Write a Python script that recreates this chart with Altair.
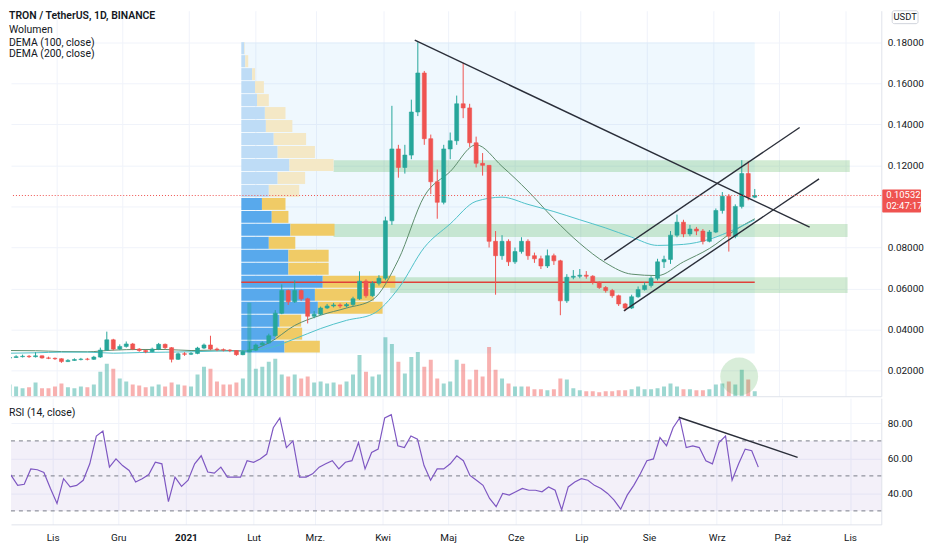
import altair as alt
import numpy as np
import pandas as pd

# ---------------- data ----------------
FIRST_DATE = "2020-10-10"      # first 3-day candle
CANDLE_DAYS = 3
first_open = 0.0261
close = [0.0264, 0.0268, 0.0270, 0.0268, 0.0272, 0.0262, 0.0260, 0.0258, 0.0244, 0.0250,
         0.0254, 0.0256, 0.0255, 0.0266, 0.0300, 0.0350, 0.0305, 0.0318, 0.0330, 0.0305,
         0.0298, 0.0292, 0.0305, 0.0328, 0.0312, 0.0255, 0.0282, 0.0280, 0.0284, 0.0310,
         0.0325, 0.0305, 0.0302, 0.0300, 0.0298, 0.0278, 0.0292, 0.0300, 0.0325, 0.0335,
         0.0370, 0.0480, 0.0590, 0.0535, 0.0590, 0.0550, 0.0465, 0.0475, 0.0505, 0.0515,
         0.0520, 0.0515, 0.0522, 0.0550, 0.0636, 0.0565, 0.0626, 0.0650, 0.0930, 0.1280,
         0.1190, 0.1250, 0.1460, 0.1650, 0.1330, 0.1120, 0.1020, 0.1280, 0.1320, 0.1500,
         0.1480, 0.1310, 0.1210, 0.1200, 0.0830, 0.0760, 0.0830, 0.0730, 0.0780, 0.0830,
         0.0760, 0.0745, 0.0710, 0.0760, 0.0735, 0.0540, 0.0655, 0.0660, 0.0665, 0.0660,
         0.0630, 0.0605, 0.0590, 0.0565, 0.0525, 0.0505, 0.0560, 0.0595, 0.0615, 0.0650,
         0.0730, 0.0742, 0.0860, 0.0923, 0.0866, 0.0890, 0.0880, 0.0830, 0.0875, 0.0980,
         0.1050, 0.0855, 0.1000, 0.1160, 0.1045, 0.10532]
high = [0.0272, 0.0275, 0.0278, 0.0276, 0.0290, 0.0274, 0.0268, 0.0264, 0.0260, 0.0256,
        0.0260, 0.0262, 0.0262, 0.0272, 0.0312, 0.0390, 0.0355, 0.0328, 0.0342, 0.0335,
        0.0310, 0.0302, 0.0312, 0.0335, 0.0332, 0.0315, 0.0288, 0.0290, 0.0290, 0.0316,
        0.0332, 0.0370, 0.0312, 0.0308, 0.0305, 0.0300, 0.0298, 0.0340, 0.0332, 0.0342,
        0.0380, 0.0495, 0.0620, 0.0595, 0.0640, 0.0595, 0.0555, 0.0490, 0.0512, 0.0525,
        0.0530, 0.0528, 0.0530, 0.0560, 0.0684, 0.0645, 0.0635, 0.0665, 0.0950, 0.1490,
        0.1300, 0.1300, 0.1520, 0.1800, 0.1660, 0.1350, 0.1180, 0.1300, 0.1360, 0.1540,
        0.1700, 0.1500, 0.1340, 0.1260, 0.1200, 0.0880, 0.0860, 0.0840, 0.0800, 0.0850,
        0.0840, 0.0775, 0.0760, 0.0790, 0.0770, 0.0740, 0.0670, 0.0690, 0.0695, 0.0685,
        0.0665, 0.0635, 0.0612, 0.0598, 0.0570, 0.0530, 0.0570, 0.0610, 0.0630, 0.0660,
        0.0745, 0.0760, 0.0880, 0.0960, 0.0935, 0.0910, 0.0900, 0.0890, 0.0885, 0.0990,
        0.1070, 0.1060, 0.1010, 0.1225, 0.1220, 0.1085]
low = [0.0258, 0.0262, 0.0264, 0.0262, 0.0264, 0.0258, 0.0256, 0.0252, 0.0238, 0.0242,
       0.0248, 0.0250, 0.0250, 0.0252, 0.0262, 0.0296, 0.0298, 0.0300, 0.0312, 0.0300,
       0.0292, 0.0285, 0.0290, 0.0300, 0.0305, 0.0240, 0.0252, 0.0272, 0.0276, 0.0280,
       0.0305, 0.0300, 0.0295, 0.0294, 0.0290, 0.0272, 0.0275, 0.0290, 0.0295, 0.0320,
       0.0330, 0.0365, 0.0475, 0.0520, 0.0530, 0.0540, 0.0430, 0.0455, 0.0470, 0.0500,
       0.0508, 0.0505, 0.0508, 0.0515, 0.0545, 0.0555, 0.0560, 0.0615, 0.0640, 0.0910,
       0.1140, 0.1160, 0.1230, 0.1440, 0.1300, 0.1060, 0.0940, 0.1010, 0.1230, 0.1300,
       0.1430, 0.1290, 0.1190, 0.1150, 0.0800, 0.0570, 0.0740, 0.0710, 0.0720, 0.0770,
       0.0740, 0.0725, 0.0695, 0.0700, 0.0715, 0.0470, 0.0530, 0.0645, 0.0650, 0.0648,
       0.0620, 0.0598, 0.0580, 0.0555, 0.0515, 0.0490, 0.0500, 0.0555, 0.0590, 0.0605,
       0.0640, 0.0700, 0.0720, 0.0850, 0.0850, 0.0855, 0.0860, 0.0815, 0.0825, 0.0870,
       0.0965, 0.0780, 0.0845, 0.0990, 0.1030, 0.1040]
volume = [12, 10, 8, 9, 14, 8, 8, 10, 13, 9,
          8, 10, 9, 12, 25, 33, 28, 18, 15, 12,
          11, 9, 10, 12, 10, 14, 12, 11, 10, 22,
          30, 28, 15, 12, 12, 14, 18, 95, 28, 30,
          35, 38, 22, 20, 22, 18, 20, 14, 15, 13,
          14, 12, 15, 22, 42, 25, 20, 22, 60, 53,
          35, 23, 40, 45, 30, 37, 18, 13, 15, 37,
          33, 17, 27, 20, 50, 27, 18, 13, 10, 10,
          10, 7, 7, 6, 7, 18, 17, 8, 6, 5,
          5, 4, 5, 5, 6, 6, 7, 10, 7, 7,
          8, 10, 13, 10, 7, 7, 6, 6, 7, 12,
          13, 15, 12, 27, 17, 5]          # 100M TRX
rsi = [47.5, 50.3, 44.6, 45.2, 54.0, 53.5, 52.0, 42.8, 34.3, 48.4,
       43.7, 44.6, 47.5, 56.9, 72.8, 75.6, 55.0, 59.7, 55.9, 53.1,
       46.5, 48.4, 50.8, 57.8, 56.9, 35.3, 49.3, 44.0, 47.5, 56.9,
       61.5, 52.2, 51.6, 55.0, 49.3, 49.3, 49.3, 58.7, 57.8, 59.7,
       62.5, 77.5, 83.1, 66.2, 70.0, 49.3, 49.3, 51.2, 55.0, 56.9,
       58.7, 54.0, 57.8, 58.7, 69.0, 54.0, 63.4, 65.3, 83.1, 85.0,
       67.2, 66.2, 72.8, 71.0, 55.9, 47.5, 54.0, 54.0, 56.9, 61.5,
       58.7, 50.3, 47.5, 44.6, 37.1, 32.4, 40.0, 39.0, 40.9, 42.8,
       41.8, 41.8, 40.9, 43.7, 41.8, 30.6, 43.7, 46.5, 48.4, 47.5,
       44.6, 42.8, 40.0, 36.2, 31.0, 39.0, 44.6, 51.2, 58.7, 59.7,
       71.9, 67.2, 77.5, 83.1, 66.2, 67.2, 66.2, 58.7, 56.9, 69.0,
       72.8, 47.5, 56.9, 65.3, 64.4, 55.0]

ma_idx = [0, 4, 8, 12, 16, 20, 24, 28, 32, 36, 40, 44, 48, 52, 56, 60, 64, 68, 72, 76,
          80, 84, 88, 92, 96, 100, 104, 108, 112, 115]
dema100 = [0.0298, 0.0297, 0.0293, 0.0292, 0.0300, 0.0303, 0.0303, 0.0298, 0.0300, 0.0296,
           0.0335, 0.0420, 0.0470, 0.0505, 0.0545, 0.0740, 0.1050, 0.1170, 0.1300, 0.1195,
           0.1075, 0.0940, 0.0820, 0.0725, 0.0670, 0.0663, 0.0730, 0.0795, 0.0885, 0.0940]
dema200 = [0.0285, 0.0287, 0.0290, 0.0290, 0.0285, 0.0288, 0.0290, 0.0292, 0.0295, 0.0296,
           0.0310, 0.0355, 0.0405, 0.0445, 0.0475, 0.0600, 0.0800, 0.0915, 0.1025, 0.1045,
           0.1010, 0.0975, 0.0935, 0.0895, 0.0850, 0.0810, 0.0815, 0.0840, 0.0890, 0.0935]

# visible-range volume profile (rows from top price to bottom price)
prof_hi, prof_lo = 0.1800, 0.0283
prof_up = [3, 4, 11, 14, 16, 24, 25, 33, 37, 49, 37, 28, 21, 31, 50, 28, 48, 48, 83, 75, 78, 39, 35, 44]
prof_down = [0.5, 3, 3, 9, 12, 21, 27, 33, 38, 45, 28, 31, 24, 17, 45, 27, 41, 41, 74, 60, 66, 22, 27, 36]
prof_in_va = [0] * 12 + [1] * 12
prof_width_share = 0.30
range_start, range_end = "2021-01-25T07:00", "2021-09-20T00:00"

zone_start = ["2021-03-09", "2021-03-09", "2021-04-04T06:00"]
zone_end = ["2021-11-03", "2021-11-02", "2021-11-02"]
zone_top = [0.1225, 0.0914, 0.0655]
zone_bottom = [0.1168, 0.0851, 0.0578]

trend_t1 = ["2021-04-15T14:00", "2021-07-12T07:00", "2021-07-21T10:00"]
trend_p1 = [0.18096, 0.07380, 0.04910]
trend_t2 = ["2021-10-15T10:00", "2021-10-10T19:00", "2021-10-19T19:00"]
trend_p2 = [0.08994, 0.13847, 0.11341]

rsi_trend_t = ["2021-08-14T14:00", "2021-10-08T00:00"]
rsi_trend_v = [83.5, 60.6]

circle_t, circle_p = "2021-09-12T19:00", 0.01713

last_price = 0.10532
countdown = "02:47:17"

legend_lines = ["TRON / TetherUS, 1D, BINANCE", "Wolumen", "DEMA (100, close)", "DEMA (200, close)"]

month_ticks = ["2020-11-01", "2020-12-01", "2021-01-01", "2021-02-01", "2021-03-01", "2021-04-01",
               "2021-05-01", "2021-06-01", "2021-07-01", "2021-08-01", "2021-09-01", "2021-10-01",
               "2021-11-01"]
month_labels = ["Lis", "Gru", "2021", "Lut", "Mrz.", "Kwi", "Maj", "Cze", "Lip", "Sie", "Wrz", "Paź", "Lis"]
price_ticks = [0.02, 0.04, 0.06, 0.08, 0.10, 0.12, 0.14, 0.16, 0.18]
hidden_price_label = 0.10          # covered by the last-price tag
rsi_ticks = [40, 60, 80]
rsi_levels = [70, 50, 30]

X_DOMAIN = ["2020-10-12T22:20", "2021-11-15T07:00"]
PRICE_DOMAIN = [0.00754, 0.19533]
RSI_DOMAIN = [22.3, 94.4]
VOL_DOMAIN = [0, 392]

# ---------------- style ----------------
W, H1, H2 = 876, 388, 127
FONT = "Roboto"
UP, DOWN = "#26a69a", "#ef5350"
TEXT = "#131722"
GRID = "#f0f3fa"
BORDER = "#e0e3eb"
LINE = "#2a2e39"
BAR_W = 4


def ms(s):
    return int(pd.Timestamp(s).tz_localize("UTC").value // 10**6)


DAY = 86400000
n = len(close)
t0 = ms(FIRST_DATE)
candles = pd.DataFrame({
    "t": [t0 + i * CANDLE_DAYS * DAY for i in range(n)],
    "open": [first_open] + close[:-1],
    "close": close, "high": high, "low": low, "volume": volume, "rsi": rsi,
})
ma = pd.DataFrame({"t": [candles.t[i] for i in ma_idx], "d100": dema100, "d200": dema200})

r0, r1 = ms(range_start), ms(range_end)
edges = np.linspace(prof_hi, prof_lo, len(prof_up) + 1)
tot = np.array(prof_up) + np.array(prof_down)
kx = prof_width_share * (r1 - r0) / tot.max()
prows = []
for k in range(len(prof_up)):
    a = r0 + prof_up[k] * kx
    b = a + prof_down[k] * kx
    va = prof_in_va[k]
    prows.append(dict(x0=r0, x1=a, hi=edges[k], lo=edges[k + 1], fill="#58a9ec" if va else "#bedcf6"))
    prows.append(dict(x0=a, x1=b, hi=edges[k], lo=edges[k + 1], fill="#f0cb66" if va else "#f4e8c6"))
prof = pd.DataFrame(prows)
poc_k = int(tot.argmax())
poc = pd.DataFrame({"x0": [r0], "x1": [r1], "p": [(edges[poc_k] + edges[poc_k + 1]) / 2]})
rng = pd.DataFrame({"x0": [r0], "x1": [r1], "hi": [prof_hi], "lo": [prof_lo]})
zones = pd.DataFrame({"s": [ms(s) for s in zone_start], "e": [ms(s) for s in zone_end],
                      "top": zone_top, "bot": zone_bottom})
trends = pd.DataFrame({"t1": [ms(s) for s in trend_t1], "p1": trend_p1,
                       "t2": [ms(s) for s in trend_t2], "p2": trend_p2})
rsi_tr = pd.DataFrame({"t1": [ms(rsi_trend_t[0])], "v1": [rsi_trend_v[0]],
                       "t2": [ms(rsi_trend_t[1])], "v2": [rsi_trend_v[1]]})
circ = pd.DataFrame({"t": [ms(circle_t)], "p": [circle_p]})
lastdf = pd.DataFrame({"p": [last_price], "lbl": [f"{last_price:.5f}"], "cd": [countdown]})

# ---------------- scales / axes ----------------
x_scale = alt.Scale(type="utc", domain=[ms(X_DOMAIN[0]), ms(X_DOMAIN[1])])
tick_ms = [ms(s) for s in month_ticks]
by_month = [""] * 12
for s, l in zip(month_ticks, month_labels):
    by_month[pd.Timestamp(s).month - 1] = l
label_expr = "[" + ",".join("'" + l + "'" for l in by_month) + "][utcmonth(datum.value)]"

x_axis_top = alt.Axis(values=tick_ms, grid=True, gridColor=GRID, labels=False, ticks=False,
                      domainColor=BORDER, title=None)
x_axis_bot = alt.Axis(values=tick_ms, grid=True, gridColor=GRID, ticks=False, domainColor=BORDER,
                      title=None, labelExpr=label_expr, labelFlush=False, labelOverlap=False,
                      labelPadding=8, labelFontSize=10, labelColor=TEXT,
                      labelFontWeight={"condition": {"test": "utcmonth(datum.value) == 0", "value": "bold"},
                                       "value": "normal"})
price_scale = alt.Scale(domain=PRICE_DOMAIN, nice=False, zero=False)
price_axis = alt.Axis(orient="right", values=price_ticks, grid=True, gridColor=GRID,
                      labelExpr=f"abs(datum.value - {hidden_price_label}) < 1e-9 ? '' : format(datum.value, '.5f')",
                      ticks=False, domainColor=BORDER, title=None, labelPadding=6, labelFontSize=10,
                      labelColor=TEXT, labelFlush=False, labelOverlap=False)
rsi_scale = alt.Scale(domain=RSI_DOMAIN, nice=False, zero=False)
rsi_axis = alt.Axis(orient="right", values=rsi_ticks, format=".2f", grid=True, gridColor=GRID,
                    ticks=False, domainColor=BORDER, title=None, labelPadding=6, labelFontSize=10,
                    labelColor=TEXT, labelFlush=False, labelOverlap=False)


def X(f, axis=x_axis_top):
    return alt.X(f"{f}:Q", type="temporal", scale=x_scale, axis=axis)


def Yp(f, show=False):
    if show:
        return alt.Y(f"{f}:Q", scale=price_scale, axis=price_axis)
    return alt.Y(f"{f}:Q", scale=price_scale, axis=None)


updown = alt.condition("datum.close >= datum.open", alt.value(UP), alt.value(DOWN))

# ---------------- top panel ----------------
bg = alt.Chart(rng).mark_rect(color="#2196f3", opacity=0.07).encode(
    x=X("x0"), x2="x1", y=Yp("hi", True), y2="lo")
zone_l = alt.Chart(zones).mark_rect(color="#4caf50", opacity=0.25).encode(
    x=X("s"), x2="e", y=Yp("top"), y2="bot")
prof_l = alt.Chart(prof).mark_rect(y2Offset=-1).encode(
    x=X("x0"), x2="x1", y=Yp("hi"), y2="lo", color=alt.Color("fill:N", scale=None))
poc_l = alt.Chart(poc).mark_rule(color="#e0403a", strokeWidth=1.5).encode(
    x=X("x0"), x2="x1", y=Yp("p"))
vol_l = alt.Chart(candles).mark_bar(width=BAR_W, opacity=0.45, clip=True).encode(
    x=X("t"), y=alt.Y("volume:Q", scale=alt.Scale(domain=VOL_DOMAIN), axis=None), color=updown)
ma100_l = alt.Chart(ma).mark_line(color="#5d8c6c", strokeWidth=1, interpolate="monotone", clip=True).encode(
    x=X("t"), y=Yp("d100"))
ma200_l = alt.Chart(ma).mark_line(color="#4fc1c9", strokeWidth=1, interpolate="monotone", clip=True).encode(
    x=X("t"), y=Yp("d200"))
wick_l = alt.Chart(candles).mark_rule(strokeWidth=1, clip=True).encode(
    x=X("t"), y=Yp("low"), y2="high", color=updown)
body_l = alt.Chart(candles).mark_bar(width=BAR_W, strokeWidth=0.6, clip=True).encode(
    x=X("t"), y=Yp("open"), y2="close", color=updown, stroke=updown)
trend_l = alt.Chart(trends).mark_rule(color=LINE, strokeWidth=1.4).encode(
    x=X("t1"), x2="t2", y=Yp("p1"), y2="p2")
last_l = alt.Chart(lastdf).mark_rule(color=DOWN, strokeDash=[1, 2], strokeWidth=1).encode(y=Yp("p"))
circ_l = alt.Chart(circ).mark_point(shape="circle", size=1450, filled=True, color="#4caf50",
                                    opacity=0.22).encode(x=X("t"), y=Yp("p"))
tag_box = alt.Chart(lastdf).mark_rect(color=DOWN, yOffset=-6, y2Offset=17, cornerRadius=1).encode(
    x=alt.value(W + 1), x2=alt.value(W + 40), y=Yp("p"), y2="p")
tag_t1 = alt.Chart(lastdf).mark_text(color="white", align="left", baseline="middle", dy=0,
                                     font=FONT, fontSize=9.5).encode(x=alt.value(W + 5), y=Yp("p"), text="lbl:N")
tag_t2 = alt.Chart(lastdf).mark_text(color="white", align="left", baseline="middle", dy=11,
                                     font=FONT, fontSize=9.5).encode(x=alt.value(W + 5), y=Yp("p"), text="cd:N")
unit_df = pd.DataFrame({"u": ["USDT"]})
unit_box = alt.Chart(unit_df).mark_rect(fill="white", stroke="#d1d4dc", strokeWidth=1, cornerRadius=2).encode(
    x=alt.value(W + 11), x2=alt.value(W + 37), y=alt.value(0), y2=alt.value(13))
unit_t = alt.Chart(unit_df).mark_text(color=TEXT, font=FONT, fontSize=9.5, baseline="middle").encode(
    x=alt.value(W + 24), y=alt.value(6.5), text="u:N")

legend_layers = []
for k, line in enumerate(legend_lines):
    legend_layers.append(
        alt.Chart(pd.DataFrame({"s": [line]})).mark_text(
            align="left", baseline="middle", font=FONT, fontSize=10.5, color=TEXT,
            fontWeight=600 if k == 0 else 400).encode(
            x=alt.value(-2), y=alt.value([5, 19, 32, 44][k]), text="s:N"))

top = alt.layer(bg, zone_l, prof_l, poc_l, vol_l, ma100_l, ma200_l, wick_l, body_l, trend_l,
                last_l, circ_l, tag_box, tag_t1, tag_t2, unit_box, unit_t, *legend_layers
                ).resolve_scale(y="independent").properties(width=W, height=H1)

# ---------------- RSI panel ----------------
band_df = pd.DataFrame({"hi": [70], "lo": [30]})
lv_df = pd.DataFrame({"v": rsi_levels})
band = alt.Chart(band_df).mark_rect(color="#7e57c2", opacity=0.09).encode(
    x=alt.value(0), x2=alt.value(W), y=alt.Y("hi:Q", scale=rsi_scale, axis=rsi_axis), y2="lo")
levels = alt.Chart(lv_df).mark_rule(color="#787b86", strokeDash=[4, 4], strokeWidth=1).encode(
    y=alt.Y("v:Q", scale=rsi_scale, axis=rsi_axis))
rsi_line = alt.Chart(candles).mark_line(color="#7e57c2", strokeWidth=1.2, clip=True).encode(
    x=X("t", x_axis_bot), y=alt.Y("rsi:Q", scale=rsi_scale, axis=rsi_axis))
rsi_trend = alt.Chart(rsi_tr).mark_rule(color=LINE, strokeWidth=1.4).encode(
    x=X("t1", x_axis_bot), x2="t2", y=alt.Y("v1:Q", scale=rsi_scale, axis=rsi_axis), y2="v2")
rsi_txt = alt.Chart(pd.DataFrame({"s": ["RSI (14, close)"]})).mark_text(
    align="left", baseline="middle", font=FONT, fontSize=10.5, color=TEXT).encode(
    x=alt.value(-2), y=alt.value(15), text="s:N")

bottom = alt.layer(band, levels, rsi_line, rsi_trend, rsi_txt).properties(width=W, height=H2)

chart = alt.vconcat(top, bottom, spacing=0, padding=0, background="white").configure_view(
    stroke="transparent").configure_axis(labelFont=FONT)

chart.save("out.html", embed_options={"renderer": "svg", "actions": False})
